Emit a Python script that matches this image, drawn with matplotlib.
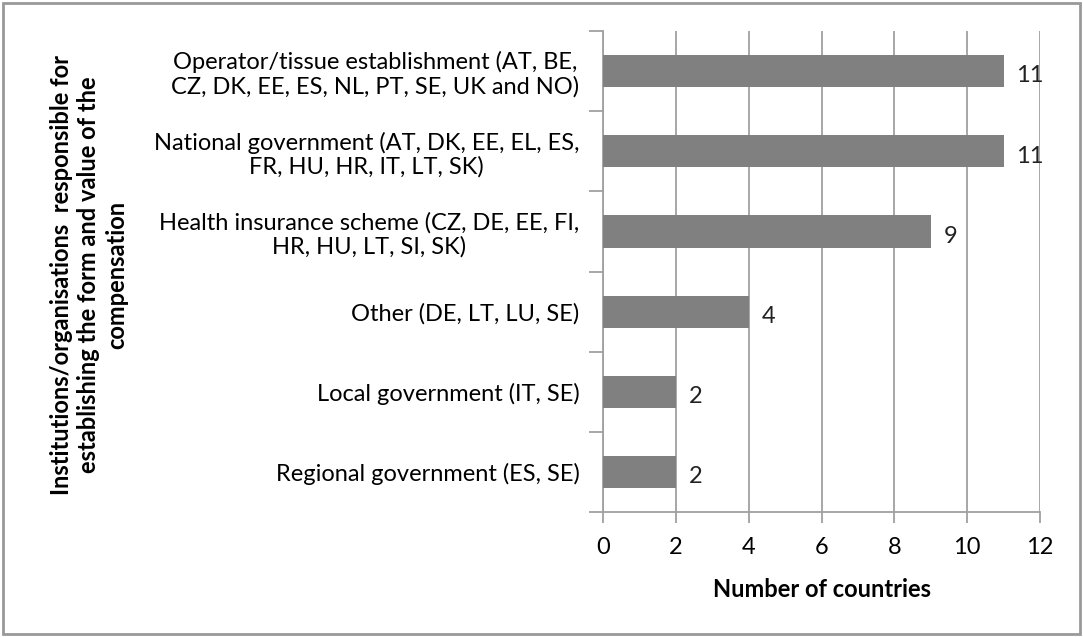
import numpy as np
import matplotlib.pyplot as plt
from matplotlib.patches import Rectangle

plt.rcParams['font.family'] = ['Lato', 'DejaVu Sans']

categories = [
    'Operator/tissue establishment (AT, BE,\nCZ, DK, EE, ES, NL, PT, SE, UK and NO)',
    'National government (AT, DK, EE, EL, ES,\nFR, HU, HR, IT, LT, SK)',
    'Health insurance scheme (CZ, DE, EE, FI,\nHR, HU, LT, SI, SK)',
    'Other (DE, LT, LU, SE)',
    'Local government (IT, SE)',
    'Regional government (ES, SE)',
]
counts = [11, 11, 9, 4, 2, 2]
xticks = [0, 2, 4, 6, 8, 10, 12]

grey = '#a0a0a0'
fs = 17

fig = plt.figure(figsize=(10.83, 6.37), dpi=100)
ax = fig.add_axes([0.5568, 0.196, 0.4035, 0.7552])

y = np.arange(len(categories))
ax.barh(y, counts, height=0.4, color='#808080', zorder=3)
for yi, c in zip(y, counts):
    ax.text(c + 0.35, yi + 0.06, str(c), va='center', ha='left', fontsize=fs, color='#222222', zorder=4)

ax.set_ylim(len(categories) - 0.5, -0.5)
ax.set_xlim(0, 12)
ax.set_xticks(xticks)
ax.xaxis.grid(True, color=grey, lw=1.3, zorder=0)

# boundaries get tick marks, centres get labels
ax.set_yticks(np.arange(-0.5, len(categories), 1.0))
ax.set_yticklabels([])
ax.set_yticks(y, minor=True)
ax.set_yticklabels(categories, minor=True, fontsize=fs, multialignment='center', linespacing=1.15)
ax.tick_params(axis='y', which='minor', length=0, pad=17)
ax.tick_params(axis='y', which='major', length=10, color=grey, width=1.3)
ax.tick_params(axis='x', length=8, color=grey, width=1.3, labelsize=fs, pad=10)

for s in ['top', 'right']:
    ax.spines[s].set_visible(False)
for s in ['left', 'bottom']:
    ax.spines[s].set_color(grey)
    ax.spines[s].set_linewidth(1.3)

ax.set_xlabel('Number of countries', fontsize=fs, fontweight='bold', labelpad=14)
fig.text(0.082, 0.568,
         'Institutions/organisations  responsible for\nestablishing the form and value of the\ncompensation',
         rotation=90, ha='center', va='center', fontsize=fs, fontweight='bold',
         multialignment='center', linespacing=1.25)

fig.patches.append(Rectangle((0.003, 0.004), 0.994, 0.992, transform=fig.transFigure,
                             fill=False, edgecolor='#999999', lw=2))

fig.savefig('out.png', dpi=100)
